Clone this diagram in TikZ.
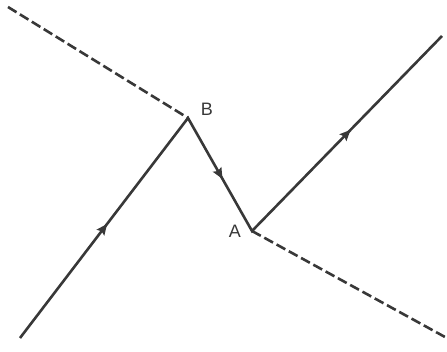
\documentclass[tikz,border=0pt]{standalone}
\usepackage{fontspec}
\setmainfont{Liberation Sans}
\usetikzlibrary{arrows.meta,decorations.markings}
\definecolor{ink}{HTML}{383838}
\begin{document}
\begin{tikzpicture}[x=1pt,y=-1pt,
  ray/.style={draw=ink,line width=2.6pt},
  dashray/.style={ray,dash pattern=on 10pt off 4pt},
  midarrow/.style={postaction={decorate},decoration={markings,
     mark=at position 0.5 with {\fill[ink] (5pt,0) -- (-6pt,5pt) -- (-4pt,0) -- (-6pt,-5pt) -- cycle;}}},
  lbl/.style={text=ink,font=\fontsize{18}{18}\selectfont,inner sep=0pt}]
\useasboundingbox (0,0) rectangle (447,352);
\coordinate (P1) at (8,7);
\coordinate (B) at (188,118);
\coordinate (S) at (20,338);
\coordinate (A) at (252,231);
\coordinate (E) at (442,36);
\coordinate (Q) at (445,337);
\draw[dashray] (P1) -- (B);
\draw[dashray] (A) -- (Q);
\draw[ray,line join=miter] (S) -- (B) -- (A) -- (E);
\path[midarrow] (S) -- (B);
\path[midarrow] (B) -- (A);
\path[midarrow] (A) -- (E);
\node[lbl] (lB) at (207,109) {B};
\node[lbl] (lA) at (235,231) {A};
\end{tikzpicture}
\end{document}
